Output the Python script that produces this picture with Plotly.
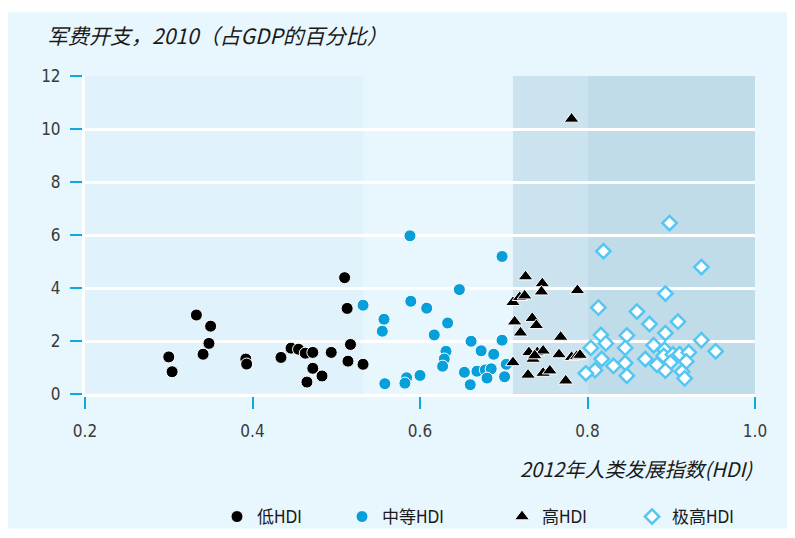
import plotly.graph_objects as go

# HDI 2012 (x) vs military spending 2010, % of GDP (y)
low_hdi = [0.300, 0.304, 0.333, 0.350, 0.348, 0.341, 0.392, 0.393, 0.434, 0.446, 0.455,
           0.463, 0.472, 0.472, 0.465, 0.483, 0.494, 0.510, 0.513, 0.517, 0.514, 0.532]
low_mil = [1.40, 0.84, 2.98, 2.56, 1.91, 1.50, 1.32, 1.13, 1.38, 1.73, 1.69,
           1.54, 1.57, 0.97, 0.45, 0.68, 1.57, 4.39, 3.23, 1.87, 1.24, 1.12]

mid_hdi = [0.532, 0.557, 0.555, 0.558, 0.588, 0.698, 0.647, 0.589, 0.608, 0.633, 0.617,
           0.661, 0.698, 0.673, 0.688, 0.631, 0.629, 0.627, 0.703, 0.600, 0.584, 0.582,
           0.653, 0.668, 0.678, 0.685, 0.680, 0.660, 0.701]
mid_mil = [3.35, 2.82, 2.37, 0.39, 5.97, 5.19, 3.94, 3.50, 3.24, 2.68, 2.23,
           1.99, 2.03, 1.63, 1.50, 1.61, 1.32, 1.05, 1.12, 0.70, 0.61, 0.41,
           0.82, 0.86, 0.91, 0.95, 0.60, 0.35, 0.65]

high_hdi = [0.781, 0.726, 0.746, 0.745, 0.788, 0.711, 0.719, 0.725, 0.713, 0.720, 0.734,
            0.739, 0.768, 0.730, 0.740, 0.747, 0.735, 0.766, 0.781, 0.787, 0.791, 0.711,
            0.729, 0.747, 0.755, 0.774, 0.737]
high_mil = [10.38, 4.43, 4.17, 3.86, 3.91, 3.46, 3.65, 3.71, 2.73, 2.31, 2.86,
            2.59, 2.15, 1.57, 1.57, 1.63, 1.32, 1.49, 1.39, 1.42, 1.47, 1.19,
            0.72, 0.79, 0.88, 0.50, 1.45]

vhigh_hdi = [0.898, 0.819, 0.936, 0.893, 0.813, 0.859, 0.874, 0.908, 0.893, 0.816, 0.847,
             0.822, 0.804, 0.845, 0.879, 0.892, 0.936, 0.953, 0.891, 0.902, 0.910, 0.921,
             0.817, 0.869, 0.845, 0.883, 0.899, 0.918, 0.831, 0.809, 0.798, 0.893, 0.913,
             0.847, 0.916]
vhigh_mil = [6.45, 5.39, 4.79, 3.79, 3.26, 3.11, 2.64, 2.73, 2.30, 2.23, 2.21,
             1.91, 1.74, 1.74, 1.84, 1.67, 2.03, 1.61, 1.44, 1.49, 1.50, 1.57,
             1.32, 1.32, 1.17, 1.10, 1.19, 1.23, 1.06, 0.90, 0.78, 0.88, 0.84,
             0.69, 0.59]

# group boundaries used for the shaded bands
hdi_cutoffs = [0.2, 0.5325, 0.711, 0.8, 1.0]
band_colors = ['#e0f2fb', '#e8f6fd', '#cae3ee', '#c0dce9']

group_names = ['低HDI', '中等HDI', '高HDI', '极高HDI']

NARROW = 'DejaVu Sans Condensed, Noto Sans CJK SC, sans-serif'
TICKBLUE = '#12a7e0'

# plot area in figure pixels
L, T, W, H = 77, 68, 670, 319

fig = go.Figure()

fig.add_trace(go.Scatter(x=low_hdi, y=low_mil, mode='markers', name=group_names[0], legend='legend',
                         marker=dict(symbol='circle', size=12, color='black', line=dict(color='white', width=1))))
fig.add_trace(go.Scatter(x=mid_hdi, y=mid_mil, mode='markers', name=group_names[1], legend='legend2',
                         marker=dict(symbol='circle', size=12, color='#079fd9', line=dict(color='white', width=1))))
fig.add_trace(go.Scatter(x=high_hdi, y=high_mil, mode='markers', name=group_names[2], legend='legend3',
                         marker=dict(symbol='triangle-up', size=13, color='black', line=dict(color='white', width=1))))
fig.add_trace(go.Scatter(x=vhigh_hdi, y=vhigh_mil, mode='markers', name=group_names[3], legend='legend4',
                         marker=dict(symbol='diamond', size=11, color='white', line=dict(color='#55c6f2', width=2.5))))

# light blue panel behind everything
fig.add_shape(type='rect', xref='paper', yref='paper',
              x0=(0 - L) / W, x1=(779 - L) / W, y0=(T + H - 522) / H, y1=(T + H - 4) / H,
              fillcolor='#e8f6fd', line_width=0, layer='below')
for i in range(4):
    fig.add_shape(type='rect', xref='x', yref='paper', x0=hdi_cutoffs[i], x1=hdi_cutoffs[i + 1], y0=0, y1=1,
                  fillcolor=band_colors[i], line_width=0, layer='below')

fig.add_annotation(text='<i>军费开支，2010（占GDP的百分比）</i>', xref='paper', yref='paper',
                   x=(37 - L) / W, y=(T + H - 27) / H, xanchor='left', yanchor='middle', showarrow=False,
                   font=dict(family='Noto Sans CJK SC, sans-serif', size=21, color='#1a1a1a'))
fig.add_annotation(text='<i>2012年人类发展指数(HDI)</i>', xref='paper', yref='paper',
                   x=1.0, y=(T + H - 462) / H, xanchor='right', yanchor='middle', showarrow=False,
                   font=dict(family='Noto Sans CJK SC, sans-serif', size=20, color='#1a1a1a'))

leg = dict(orientation='h', yanchor='middle', y=(T + H - 509) / H, xanchor='left', bgcolor='rgba(0,0,0,0)',
           font=dict(family=NARROW, size=17, color='#1a1a1a'))
legend_marker_x = [228, 353, 513, 643]
fig.update_layout(
    legend=dict(leg, x=(legend_marker_x[0] - 19 - L) / W),
    legend2=dict(leg, x=(legend_marker_x[1] - 19 - L) / W),
    legend3=dict(leg, x=(legend_marker_x[2] - 19 - L) / W),
    legend4=dict(leg, x=(legend_marker_x[3] - 19 - L) / W),
)

fig.update_xaxes(range=[0.2, 1.0], tickvals=[0.2, 0.4, 0.6, 0.8, 1.0], ticktext=['0.2', '0.4', '0.6', '0.8', '1.0'],
                 showgrid=False, zeroline=False, showline=True, linecolor='white', linewidth=3,
                 ticks='outside', ticklen=12, tickwidth=2, tickcolor=TICKBLUE, ticklabelstandoff=8,
                 tickfont=dict(family=NARROW, size=17, color='#3a3a3a'))
fig.update_yaxes(range=[0, 12], tickvals=[0, 2, 4, 6, 8, 10, 12],
                 showgrid=True, gridcolor='white', gridwidth=3, zeroline=False,
                 showline=True, linecolor='white', linewidth=3,
                 ticks='outside', ticklen=12, tickwidth=2, tickcolor=TICKBLUE, ticklabelstandoff=6,
                 tickfont=dict(family=NARROW, size=17, color='#3a3a3a'))

fig.update_layout(width=795, height=538, margin=dict(l=L, r=795 - L - W, t=T, b=538 - T - H),
                  paper_bgcolor='white', plot_bgcolor='rgba(0,0,0,0)', showlegend=True)

fig.write_html('out.html')
